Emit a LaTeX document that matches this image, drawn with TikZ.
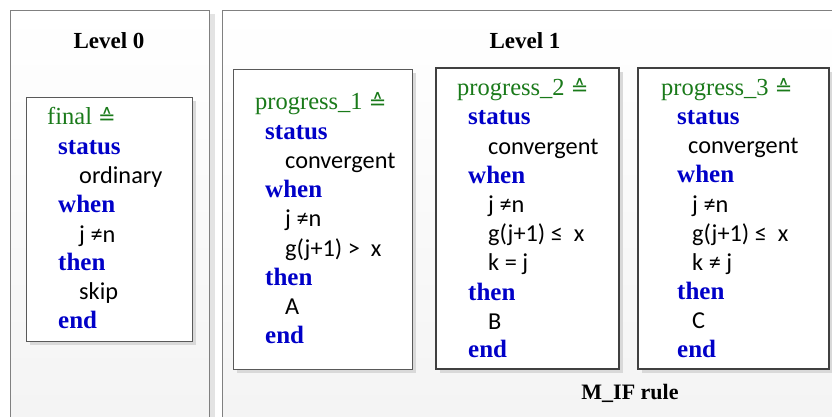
\documentclass[tikz,border=0pt]{standalone}
\usepackage{fontspec}
\setmainfont{Liberation Serif}
\newfontfamily\bodyfont{Carlito}
\newfontfamily\symfont{DejaVu Sans}
\definecolor{kwblue}{HTML}{0000C8}
\definecolor{ttlgreen}{HTML}{1A7A1A}
\definecolor{panelline}{HTML}{808080}
\definecolor{boxline}{HTML}{595959}
\definecolor{thickline}{HTML}{404040}
\newcommand{\eqdef}{{\symfont\fontsize{21}{24}\selectfont ≙}}
\tikzset{
  kw/.style={font=\fontsize{25}{28}\selectfont\bfseries, text=kwblue, anchor=mid west, inner sep=0pt, yshift=-5pt},
  txt/.style={font=\bodyfont\fontsize{24.3}{28}\selectfont, text=black, anchor=mid west, inner sep=0pt, yshift=-5pt},
  ttl/.style={font=\fontsize{24.5}{28}\selectfont, text=ttlgreen, anchor=mid west, inner sep=0pt, yshift=-5pt},
  lvl/.style={font=\fontsize{23}{28}\selectfont\bfseries, text=black, inner sep=0pt},
  panel/.style={draw=panelline, line width=0.8pt, top color=white, bottom color=gray!9},
  thinbox/.style={draw=boxline, line width=0.9pt, fill=white},
  thickbox/.style={draw=thickline, line width=2.4pt, fill=white},
  shadowfill/.style={fill=gray!30, draw=none}
}
\begin{document}
\begin{tikzpicture}[x=1pt,y=-1pt]
\useasboundingbox (0,0) rectangle (832,416);
\clip (0,0) rectangle (832,416);
\fill[white] (0,0) rectangle (832,416);
% panels
\fill[gray!22] (209,14) rectangle (215,430);
\path[panel] (10,10) rectangle (209,430);
\path[panel] (222,10) rectangle (850,430);
\node[lvl] (lvl0) at (109,41) {Level 0};
\node[lvl] (lvl1) at (525,41) {Level 1};
% boxes
\path[shadowfill] (30,101) rectangle (196,345);
\path[thinbox] (26,97) rectangle (192,341);
\path[shadowfill] (237,73) rectangle (416,373);
\path[thinbox] (233,69) rectangle (412,369);
\path[shadowfill] (440,72) rectangle (623,373);
\path[thickbox] (436,68) rectangle (619,369);
\path[shadowfill] (642,72) rectangle (833,373);
\path[thickbox] (638,68) rectangle (829,369);
% final
\node[ttl] (f0) at (47,117) {final \eqdef};
\node[kw]  (f1) at (58,147) {status};
\node[txt] (f2) at (79,176) {ordinary};
\node[kw]  (f3) at (58,205) {when};
\node[txt] (f4) at (79,235) {j ≠n};
\node[kw]  (f5) at (58,263) {then};
\node[txt] (f6) at (79,292) {skip};
\node[kw]  (f7) at (58,321) {end};
% progress_1
\node[ttl] (a0) at (255,102) {progress\_1 \eqdef};
\node[kw]  (a1) at (265,132) {status};
\node[txt] (a2) at (285,161) {convergent};
\node[kw]  (a3) at (265,190) {when};
\node[txt] (a4) at (285,219) {j ≠n};
\node[txt] (a5) at (285,249) {g(j+1) >\ \ x};
\node[kw]  (a6) at (265,278) {then};
\node[txt] (a7) at (285,307) {A};
\node[kw]  (a8) at (265,336) {end};
% progress_2
\node[ttl] (b0) at (457,88) {progress\_2 \eqdef};
\node[kw]  (b1) at (468,117) {status};
\node[txt] (b2) at (488,147) {convergent};
\node[kw]  (b3) at (468,176) {when};
\node[txt] (b4) at (488,205) {j ≠n};
\node[txt] (b5) at (488,234) {g(j+1) ≤\ \ x};
\node[txt] (b6) at (488,263) {k = j};
\node[kw]  (b7) at (468,293) {then};
\node[txt] (b8) at (488,322) {B};
\node[kw]  (b9) at (468,350) {end};
% progress_3
\node[ttl] (c0) at (661,88) {progress\_3 \eqdef};
\node[kw]  (c1) at (677,117) {status};
\node[txt] (c2) at (688,146) {convergent};
\node[kw]  (c3) at (677,175) {when};
\node[txt] (c4) at (692,205) {j ≠n};
\node[txt] (c5) at (692,234) {g(j+1) ≤\ \ x};
\node[txt] (c6) at (692,263) {k ≠ j};
\node[kw]  (c7) at (677,292) {then};
\node[txt] (c8) at (692,321) {C};
\node[kw]  (c9) at (677,350) {end};
% rule label
\node[lvl, font=\fontsize{22}{26}\selectfont\bfseries] (rule) at (630,393) {M\_IF rule};
\end{tikzpicture}
\end{document}
